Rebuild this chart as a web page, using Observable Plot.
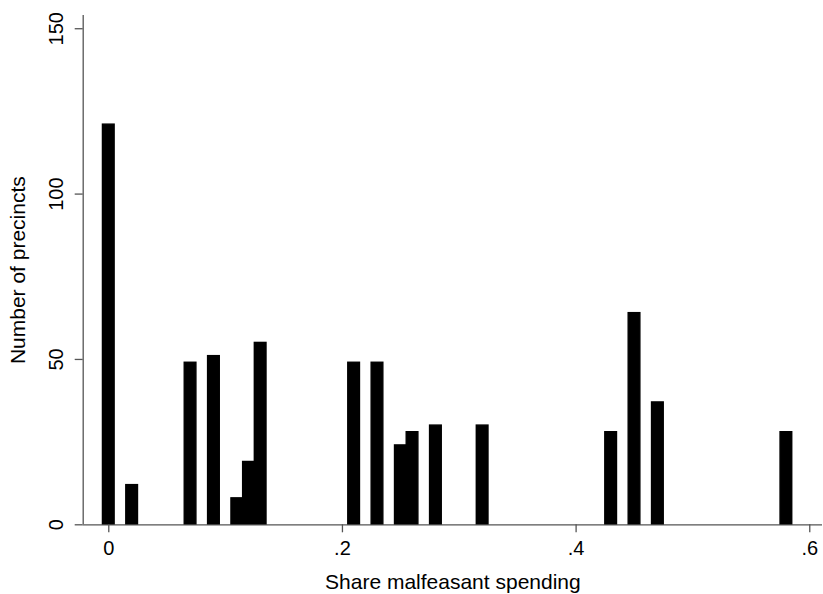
<!DOCTYPE html>
<html>
<head>
<meta charset="utf-8">
<script src="https://cdn.jsdelivr.net/npm/d3@7"></script>
<script src="https://cdn.jsdelivr.net/npm/@observablehq/plot@0.6"></script>
<style>
  html, body { margin: 0; padding: 0; background: #fff; }
</style>
</head>
<body>
<div id="chart"></div>
<script>
// Histogram bins (bin centre, share malfeasant spending) and their counts
const binCenters = [0, 0.02, 0.07, 0.09, 0.11, 0.12, 0.13, 0.21, 0.23, 0.25, 0.26, 0.28, 0.32, 0.43, 0.45, 0.47, 0.58];
const binCounts  = [121, 12, 49, 51, 8, 19, 55, 49, 49, 24, 28, 30, 30, 28, 64, 37, 28];
const binWidth = 0.01;

// Axis ticks and labels
const xTickValues = [0, 0.2, 0.4, 0.6];
const xTickLabels = ["0", ".2", ".4", ".6"];
const yTickValues = [0, 50, 100, 150];
const yTickLabels = ["0", "50", "100", "150"];
const xTitle = "Share malfeasant spending";
const yTitle = "Number of precincts";

const bins = binCenters.map((c, i) => ({center: c, count: binCounts[i]}));
const xDomain = [-0.0219, 0.6109];
const yDomain = [0, 154];
const axisColor = "#555";
const axisWidth = 1.3;

const chart = Plot.plot({
  width: 823,
  height: 594,
  marginLeft: 82.7,
  marginRight: 1,
  marginTop: 15,
  marginBottom: 69.7,
  style: {
    fontFamily: "'Liberation Sans', Arial, Helvetica, sans-serif",
    fontSize: "20px",
    background: "white",
    color: "black"
  },
  x: {domain: xDomain, axis: null, label: null},
  y: {domain: yDomain, axis: null, label: null},
  marks: [
    Plot.rectY(bins, {
      x1: d => d.center - binWidth / 2,
      x2: d => d.center + binWidth / 2,
      y1: 0,
      y2: "count",
      fill: "black",
      stroke: "black",
      strokeWidth: 1.4
    }),
    Plot.ruleY([0], {stroke: axisColor, strokeWidth: axisWidth}),
    Plot.ruleX([xDomain[0]], {stroke: axisColor, strokeWidth: axisWidth}),
    Plot.axisX(xTickValues, {
      tickSize: 8,
      tickFormat: () => "",
      label: null,
      stroke: axisColor,
      strokeWidth: axisWidth
    }),
    Plot.axisY(yTickValues, {
      tickSize: 8,
      tickFormat: () => "",
      label: null,
      stroke: axisColor,
      strokeWidth: axisWidth
    }),
    Plot.text(xTickValues, {
      x: d => d,
      y: 0,
      text: d => xTickLabels[xTickValues.indexOf(d)],
      textAnchor: "middle",
      lineAnchor: "bottom",
      dy: 29.7,
      fontSize: 20,
      fill: "black"
    }),
    Plot.text(yTickValues, {
      x: xDomain[0],
      y: d => d,
      text: d => yTickLabels[yTickValues.indexOf(d)],
      rotate: -90,
      textAnchor: "middle",
      lineAnchor: "bottom",
      dx: -19.7,
      fontSize: 20,
      fill: "black"
    }),
    Plot.text([yTitle], {
      frameAnchor: "left",
      text: d => d,
      rotate: -90,
      textAnchor: "middle",
      lineAnchor: "bottom",
      dx: -58,
      fontSize: 21,
      fill: "black"
    }),
    Plot.text([xTitle], {
      frameAnchor: "bottom",
      text: d => d,
      textAnchor: "middle",
      lineAnchor: "bottom",
      dy: 63.7,
      fontSize: 21,
      fill: "black"
    })
  ]
});

document.getElementById("chart").appendChild(chart);
</script>
</body>
</html>
